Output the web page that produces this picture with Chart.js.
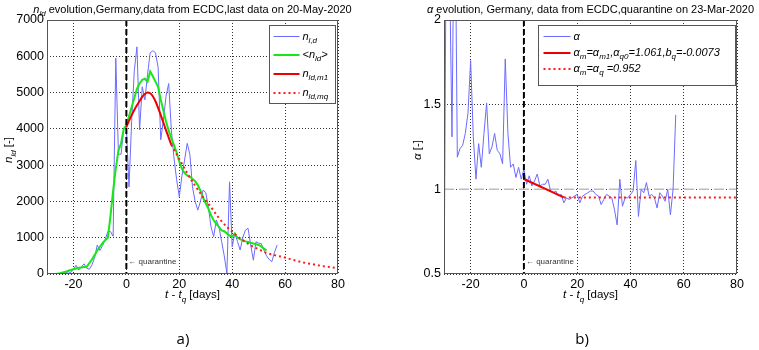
<!DOCTYPE html>
<html>
<head>
<meta charset="utf-8">
<script src="https://cdn.jsdelivr.net/npm/chart.js@4/dist/chart.umd.min.js"></script>
<style>
  html, body { margin: 0; padding: 0; background: #fff; }
  #wrap { position: relative; width: 759px; height: 350px; }
  .panel { position: absolute; top: 0; height: 350px; }
  #pa { left: 0; width: 380px; }
  #pb { left: 380px; width: 379px; }
</style>
</head>
<body>
<div id="wrap">
  <div class="panel" id="pa"><canvas id="ca" width="380" height="350"></canvas></div>
  <div class="panel" id="pb"><canvas id="cb" width="379" height="350"></canvas></div>
</div>
<script>
// days counted from quarantine (23-Mar-2020)
const firstDay = -30;
const quarantineDay = 0;
const xMin = -30, xMax = 80;
const xTicks = [-20, 0, 20, 40, 60, 80];
const nTicks = [0, 1000, 2000, 3000, 4000, 5000, 6000, 7000];
const alphaTicks = [0.5, 1, 1.5, 2];

// n_l,d : daily new cases, day -30 .. 57
const nDaily = [0, 0, 0, 0, 0, 0, 0, 30, 60, 40, 130, 240, 110, 200, 280, 160, 130, 250, 450, 800,
  650, 780, 950, 1170, 1170, 1040, 5950, 3300, 3300, 4000, 4050,
  2400, 4200, 5600, 6260, 3970, 5160, 4800, 5500, 6100, 6150, 6100, 5700, 3700, 4240, 4900, 5250,
  3970, 3200, 2600, 2130, 2700, 3140, 3600, 3300, 2400, 2000, 1760, 2000, 2310, 2250, 1850, 1300,
  1030, 1490, 1300, 900, 500, 20, 2540, 750, 1120, 900, 660, 1000, 1210, 1260, 800, 380, 890, 850,
  840, 660, 500, 400, 340, 600, 800];

// <n_ld> : smoothed, day -30 .. 53
const nSmooth = [0, 0, 0, 0, 10, 20, 40, 60, 90, 110, 130, 150, 170, 180, 190, 200, 300, 400, 520, 650,
  750, 850, 930, 1000, 1600, 2300, 2900, 3400, 3600, 4000,
  4100, 4350, 4600, 4850, 5100, 5250, 5350, 5380, 5300, 5580, 5450, 5300, 5150, 4800, 4500, 4200,
  3950, 3750, 3550, 3350, 3100, 2900, 2780, 2720, 2680, 2620, 2560, 2450, 2300, 2100, 1950, 1800,
  1620, 1480, 1380, 1300, 1200, 1180, 1120, 1060, 1030, 1120, 1000, 960, 930, 900, 880, 860, 840,
  820, 800, 760, 700, 650];

// n_ld,m1 : model fit
const nFitDays = [0, 1, 2, 3, 4, 5, 6, 7, 8, 9, 10, 11, 12, 13, 14, 15, 16, 17];
const nFit = [4050, 4220, 4380, 4520, 4650, 4770, 4880, 4960, 5000, 4980, 4900, 4760, 4580, 4380, 4170, 3960, 3760, 3560];

// n_ld,mq : model forecast
const nForecastDays = [17, 20, 23, 26, 29, 32, 35, 38, 41, 44, 47, 50, 53, 56, 59, 62, 65, 68, 71, 74, 77, 80];
const nForecast = [3560, 3170, 2780, 2430, 2120, 1840, 1540, 1300, 1100, 930, 790, 680, 580, 520, 470, 410, 350, 300, 260, 220, 190, 165];

// alpha : daily growth ratio, day -30 .. 57
const alphaDaily = [0.3, 3.0, 2.4, 1.31, 3.0, 1.19, 1.24, 1.26, 1.33, 1.45,
  1.76, 1.31, 1.06, 1.27, 1.13, 1.33, 1.51, 1.21, 1.25, 1.33,
  1.23, 1.21, 1.15, 1.77, 1.33, 1.13, 1.15, 1.07, 1.13, 1.06,
  1.12, 1.03, 1.08, 1.02, 1.05, 1.09, 1.02, 1.03, 1.03, 1.06,
  0.99, 0.98, 0.99, 0.96, 0.97, 0.92, 0.95, 0.94, 0.95, 0.96,
  0.97, 0.92, 0.96, 0.97, 0.98, 0.99, 0.99, 0.97, 0.96, 0.91,
  0.94, 0.97, 0.96, 0.95, 0.88, 0.79, 1.06, 0.90, 0.95, 0.95,
  0.97, 0.99, 1.17, 0.84, 1.00, 0.98, 1.04, 0.96, 0.97, 0.95,
  0.89, 0.98, 0.96, 0.93, 1.00, 0.85, 1.00, 1.44];

const alphaFitDays = [0, 15];
const alphaFit = [1.061, 0.952];
const alphaQDays = [15, 80];
const alphaQ = [0.952, 0.952];
const alphaRefDays = [-30, 80];
const alphaRef = [1, 1];

const FONT = '"Liberation Sans", Arial, sans-serif';

const byDay = (vals, start) => vals.map((v, i) => ({ x: start + i, y: v }));
const pairs = (xs, ys) => xs.map((x, i) => ({ x: x, y: ys[i] }));

// tiny markup: ~ toggles italic, _{..} is subscript
function runsOf(str) {
  const runs = [];
  let buf = '', italic = false, sub = false;
  const push = () => { if (buf) runs.push({ text: buf, italic, sub }); buf = ''; };
  for (let i = 0; i < str.length; i++) {
    const c = str[i];
    if (c === '~') { push(); italic = !italic; }
    else if (c === '_' && str[i + 1] === '{') { push(); sub = true; i++; }
    else if (c === '}' && sub) { push(); sub = false; }
    else buf += c;
  }
  push();
  return runs;
}

function drawRich(ctx, str, x, y, size, align) {
  const runs = runsOf(str);
  const subSize = Math.round(size * 0.73);
  const fontOf = r => (r.italic ? 'italic ' : '') + (r.sub ? subSize : size) + 'px ' + FONT;
  let w = 0;
  runs.forEach(r => { ctx.font = fontOf(r); r.w = ctx.measureText(r.text).width; w += r.w; });
  let cx = align === 'center' ? x - w / 2 : x;
  ctx.textAlign = 'left';
  ctx.textBaseline = 'middle';
  runs.forEach(r => {
    ctx.font = fontOf(r);
    ctx.fillText(r.text, cx, r.sub ? y + size * 0.38 : y);
    cx += r.w;
  });
  return w;
}

const panelPlugin = {
  id: 'panel',
  afterDatasetsDraw(chart, args, opts) {
    const { ctx, chartArea: a, scales } = chart;
    const xq = scales.x.getPixelForValue(quarantineDay);
    ctx.save();
    // quarantine marker
    ctx.strokeStyle = '#000';
    ctx.lineWidth = 2;
    ctx.setLineDash([6, 3]);
    ctx.beginPath();
    ctx.moveTo(xq, a.top);
    ctx.lineTo(xq, a.bottom);
    ctx.stroke();
    ctx.setLineDash([]);
    ctx.fillStyle = '#333';
    ctx.font = '8px ' + FONT;
    ctx.textBaseline = 'middle';
    ctx.fillText('\u2190 quarantine', xq + 2, a.bottom - 12);
    // box
    ctx.strokeStyle = '#555';
    ctx.lineWidth = 1;
    ctx.strokeRect(a.left + 0.5, a.top + 0.5, a.width - 1, a.height - 1);
    // legend
    const lg = opts.legend;
    const bx = Math.round(a.right - lg.right - lg.width) + 0.5;
    const by = Math.round(a.top + lg.top) + 0.5;
    ctx.fillStyle = '#fff';
    ctx.fillRect(bx, by, lg.width, lg.height);
    ctx.strokeStyle = '#555';
    ctx.strokeRect(bx, by, lg.width, lg.height);
    let row = 0;
    chart.data.datasets.forEach(ds => {
      if (!ds.legendText) return;
      const ry = Math.round(by + lg.first + row * lg.rowH) + (ds.borderWidth === 1 ? 0.5 : 0);
      ctx.strokeStyle = ds.borderColor;
      ctx.lineWidth = ds.borderWidth;
      ctx.setLineDash(ds.borderDash || []);
      ctx.beginPath();
      ctx.moveTo(bx + lg.lineFrom, ry);
      ctx.lineTo(bx + lg.lineTo, ry);
      ctx.stroke();
      ctx.setLineDash([]);
      ctx.fillStyle = '#000';
      drawRich(ctx, ds.legendText, bx + lg.textX, ry, 11, 'left');
      row++;
    });
    ctx.restore();
  },
  afterDraw(chart, args, opts) {
    const { ctx, chartArea: a } = chart;
    const cx = (a.left + a.right) / 2;
    ctx.save();
    ctx.fillStyle = '#000';
    drawRich(ctx, opts.title, cx, 10, 11, 'center');
    drawRich(ctx, opts.xTitle, cx, 295, 11.5, 'center');
    ctx.save();
    ctx.translate(opts.yTitleX, (a.top + a.bottom) / 2 + 3);
    ctx.rotate(-Math.PI / 2);
    drawRich(ctx, opts.yTitle, 0, 0, 11.5, 'center');
    ctx.restore();
    ctx.font = '15px "Open Sans", ' + FONT;
    ctx.textAlign = 'center';
    ctx.textBaseline = 'middle';
    ctx.fillText(opts.tag, opts.tagX, 340);
    ctx.restore();
  }
};

function makeScales(yTicks, yWidth) {
  const tickFont = { family: FONT, size: 12.5 };
  return {
    x: {
      type: 'linear', min: xMin, max: xMax,
      afterBuildTicks: s => { s.ticks = xTicks.map(v => ({ value: v })); },
      afterFit: s => { s.height = 76; },
      ticks: { color: '#000', font: tickFont, padding: 3, maxRotation: 0, callback: v => String(v) },
      grid: { color: '#333', lineWidth: 1, drawTicks: false },
      border: { display: false, dash: [1, 2] }
    },
    y: {
      type: 'linear', min: yTicks[0], max: yTicks[yTicks.length - 1],
      afterBuildTicks: s => { s.ticks = yTicks.map(v => ({ value: v })); },
      afterFit: s => { s.width = yWidth; },
      ticks: { color: '#000', font: tickFont, padding: 3, callback: v => String(v) },
      grid: { color: '#333', lineWidth: 1, drawTicks: false },
      border: { display: false, dash: [1, 2] }
    }
  };
}

const lineBase = { pointRadius: 0, fill: false, tension: 0 };

new Chart(document.getElementById('ca'), {
  type: 'line',
  data: {
    datasets: [
      Object.assign({ data: byDay(nDaily, firstDay), borderColor: '#6b6bff', borderWidth: 1, order: 4,
        legendText: '~n_{l,d}~' }, lineBase),
      Object.assign({ data: byDay(nSmooth, firstDay), borderColor: '#19e619', borderWidth: 2, order: 3,
        legendText: '~<n_{ld}>~' }, lineBase),
      Object.assign({ data: pairs(nFitDays, nFit), borderColor: '#ee0000', borderWidth: 2, order: 2,
        cubicInterpolationMode: 'monotone', legendText: '~n_{ld,m1}~' }, lineBase),
      Object.assign({ data: pairs(nForecastDays, nForecast), borderColor: '#ff1a1a', borderWidth: 2,
        borderDash: [2, 3], order: 1, cubicInterpolationMode: 'monotone', legendText: '~n_{ld,mq}~' }, lineBase)
    ]
  },
  options: {
    responsive: false, animation: false, parsing: false,
    layout: { padding: { left: 0, right: 42, top: 20, bottom: 0 } },
    scales: makeScales(nTicks, 47),
    plugins: {
      legend: { display: false }, tooltip: { enabled: false },
      panel: {
        title: '~n_{ld}~ evolution,Germany,data from ECDC,last data on 20-May-2020',
        xTitle: '~t~ - ~t_{q}~ [days]', yTitle: '~n_{ld}~ [-]', yTitleX: 9,
        tag: 'a)', tagX: 183,
        legend: { right: 3, top: 5, width: 66, height: 78, first: 10, rowH: 19.3, lineFrom: 4, lineTo: 30, textX: 33 }
      }
    }
  },
  plugins: [panelPlugin]
});

new Chart(document.getElementById('cb'), {
  type: 'line',
  data: {
    datasets: [
      Object.assign({ data: byDay(alphaDaily, firstDay), borderColor: '#6b6bff', borderWidth: 1, order: 3,
        legendText: '~\u03b1~' }, lineBase),
      Object.assign({ data: pairs(alphaFitDays, alphaFit), borderColor: '#ee0000', borderWidth: 2, order: 2,
        legendText: '~\u03b1_{m}=\u03b1_{m1},\u03b1_{q0}=1.061,b_{q}=-0.0073~' }, lineBase),
      Object.assign({ data: pairs(alphaQDays, alphaQ), borderColor: '#ff1a1a', borderWidth: 2,
        borderDash: [2, 3], order: 1, legendText: '~\u03b1_{m}=\u03b1_{q} =0.952~' }, lineBase),
      Object.assign({ data: pairs(alphaRefDays, alphaRef), borderColor: '#bdbdbd', borderWidth: 1.5,
        borderDash: [10, 5], order: 5 }, lineBase)
    ]
  },
  options: {
    responsive: false, animation: false, parsing: false,
    layout: { padding: { left: 0, right: 22, top: 20, bottom: 0 } },
    scales: makeScales(alphaTicks, 64),
    plugins: {
      legend: { display: false }, tooltip: { enabled: false },
      panel: {
        title: '~\u03b1~ evolution, Germany, data from ECDC,quarantine on 23-Mar-2020',
        xTitle: '~t~ - ~t_{q}~ [days]', yTitle: '~\u03b1~ [-]', yTitleX: 38,
        tag: 'b)', tagX: 202,
        legend: { right: 2, top: 5, width: 197, height: 60, first: 10.7, rowH: 16.6, lineFrom: 5, lineTo: 32, textX: 35 }
      }
    }
  },
  plugins: [panelPlugin]
});
</script>
</body>
</html>
